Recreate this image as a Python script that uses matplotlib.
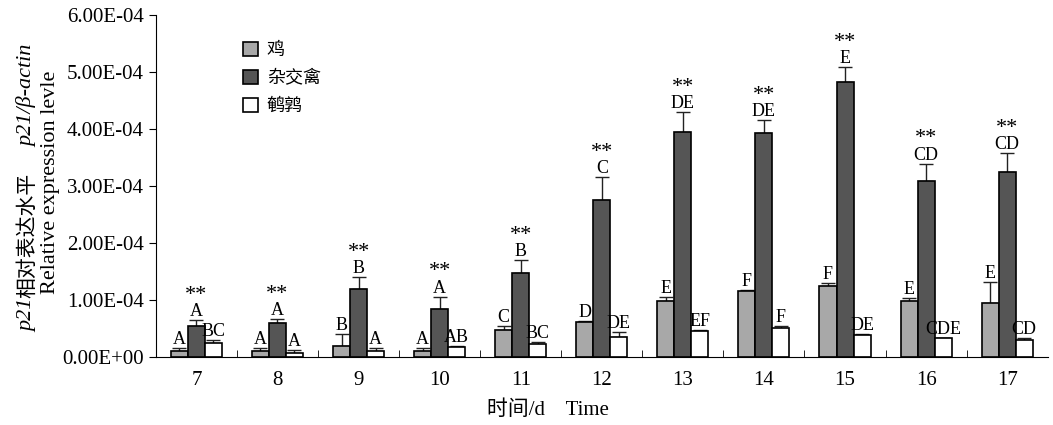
import numpy as np
import matplotlib.pyplot as plt

plt.rcParams['font.family'] = ['Liberation Serif', 'Noto Sans CJK SC']

days = ['7', '8', '9', '10', '11', '12', '13', '14', '15', '16', '17']
series_names = ['鸡', '杂交禽', '鹌鹑']

# values in units of 1e-4
chicken = [0.10, 0.10, 0.20, 0.10, 0.48, 0.62, 0.98, 1.15, 1.25, 0.98, 0.95]
chicken_err = [0.05, 0.05, 0.20, 0.05, 0.06, 0.01, 0.07, 0.03, 0.04, 0.06, 0.37]
hybrid = [0.55, 0.60, 1.20, 0.85, 1.48, 2.75, 3.95, 3.93, 4.83, 3.08, 3.25]
hybrid_err = [0.10, 0.07, 0.20, 0.21, 0.22, 0.40, 0.35, 0.22, 0.25, 0.31, 0.33]
quail = [0.25, 0.07, 0.10, 0.17, 0.23, 0.35, 0.45, 0.50, 0.38, 0.33, 0.30]
quail_err = [0.04, 0.05, 0.05, 0.02, 0.04, 0.09, 0.02, 0.04, 0.03, 0.01, 0.04]

chicken_lab = ['A', 'A', 'B', 'A', 'C', 'D', 'E', 'F', 'F', 'E', 'E']
hybrid_lab = ['A', 'A', 'B', 'A', 'B', 'C', 'DE', 'DE', 'E', 'CD', 'CD']
quail_lab = ['BC', 'A', 'A', 'AB', 'BC', 'DE', 'EF', 'F', 'DE', 'CDE', 'CD']

colors = ['#a8a8a8', '#555555', '#ffffff']

fig = plt.figure(figsize=(10.53, 4.25), dpi=100)
ax = fig.add_axes([0.148, 0.16, 0.847, 0.805])

x = np.arange(len(days))
w = 0.21
scale = 1e-4
groups = [(chicken, chicken_err, chicken_lab), (hybrid, hybrid_err, hybrid_lab), (quail, quail_err, quail_lab)]
for i, (vals, errs, labs) in enumerate(groups):
    pos = x + (i - 1) * w
    v = np.array(vals) * scale
    e = np.array(errs) * scale
    ax.bar(pos, v, w, color=colors[i], edgecolor='black', linewidth=1.2,
           label=series_names[i], zorder=2)
    ax.errorbar(pos, v, yerr=[np.zeros_like(e), e], fmt='none', ecolor='#222222',
                elinewidth=1.0, capsize=5, capthick=1.0, zorder=1)
    for p, top, lab in zip(pos, v + e, labs):
        ax.annotate(lab, (p, top), xytext=(0, 0), textcoords='offset points',
                    ha='center', va='bottom', fontsize=13)
        if i == 1:
            ax.annotate('**', (p, top), xytext=(0, 11), textcoords='offset points',
                        ha='center', va='bottom', fontsize=16)

ax.set_xlim(-0.5, len(days) - 0.5)
ax.set_ylim(0, 6e-4)
ax.set_yticks(np.arange(0, 7) * 1e-4)
ax.set_yticklabels(['0.00E+00', '1.00E-04', '2.00E-04', '3.00E-04', '4.00E-04', '5.00E-04', '6.00E-04'],
                   fontsize=15)
ax.set_xticks(x)
ax.set_xticklabels(days, fontsize=15)
ax.tick_params(axis='x', length=0, pad=10)
ax.set_xticks(x[:-1] + 0.5, minor=True)
ax.tick_params(axis='x', which='minor', direction='in', length=5)
ax.tick_params(axis='y', direction='out', length=5)
ax.spines['top'].set_visible(False)
ax.spines['right'].set_visible(False)

leg = ax.legend(loc='upper left', bbox_to_anchor=(0.08, 0.97), frameon=False,
                prop={'family': ['Noto Sans CJK SC'], 'size': 13},
                handlelength=0.8, handleheight=0.8, handletextpad=0.5, labelspacing=0.55)

# y label, two rotated lines
fig.text(0.026, 0.298, 'p21', rotation=90, fontsize=16, style='italic', ha='center', va='top')
fig.text(0.026, 0.30, '相对表达水平', rotation=90, fontsize=15, ha='center', va='bottom',
         family=['Noto Sans CJK SC'])
fig.text(0.026, 0.655, 'p21/β-actin', rotation=90, fontsize=16, style='italic', ha='center', va='bottom')
fig.text(0.048, 0.57, 'Relative expression levle', rotation=90, fontsize=16, ha='center', va='center')

fig.text(0.52, 0.035, '时间/d    Time', fontsize=15, ha='center', va='center')

fig.savefig('out.png', dpi=100)
